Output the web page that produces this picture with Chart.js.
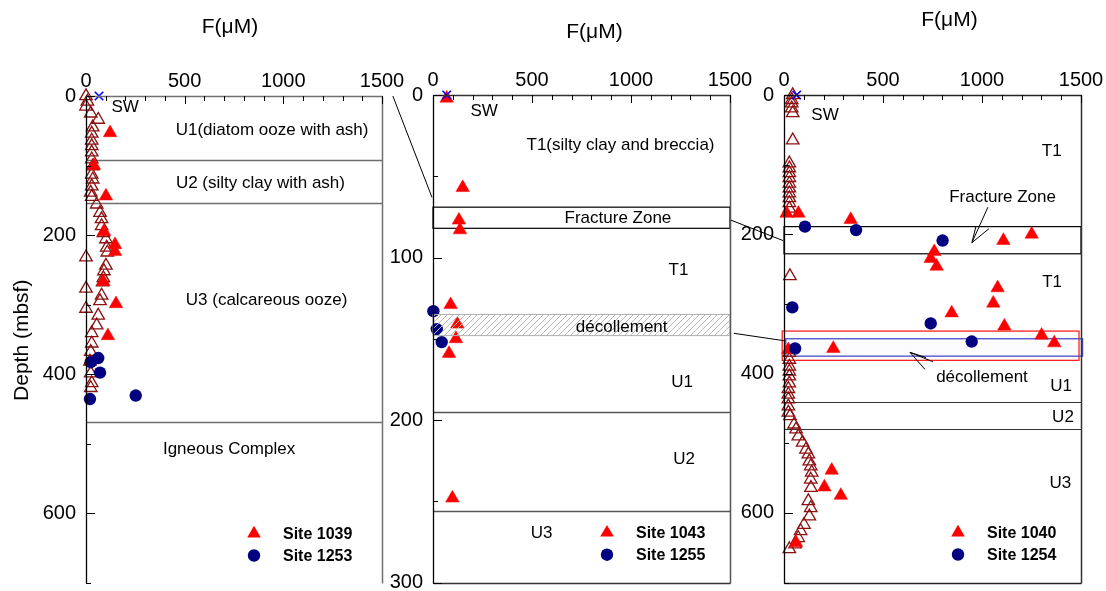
<!DOCTYPE html>
<html><head><meta charset="utf-8">
<script src="https://cdn.jsdelivr.net/npm/chart.js@4.4.0/dist/chart.umd.min.js"></script>
<style>
html,body{margin:0;padding:0;background:#fff;}
#wrap{position:relative;width:1106px;height:591px;overflow:hidden;}
#wrap canvas{position:absolute;left:0;top:0;}
</style></head><body>
<div id="wrap">
<canvas id="c1" width="1106" height="591"></canvas>
<canvas id="c2" width="1106" height="591"></canvas>
<canvas id="c3" width="1106" height="591"></canvas>
</div>
<script>
// ---------------- DATA ----------------
// x = F (µM), y = depth (mbsf)
const xTickLabels = [0, 500, 1000, 1500];

// Panel 1
const p1SwF = [66];           const p1SwDepth = [0];
const site1253F = [62, 24, 71, 20, 252];
const site1253Depth = [377, 383, 398, 436, 431];
const site1039F = [122, 40, 101, 91, 147, 147, 88, 152, 111];
const site1039Depth = [53, 100, 144, 195, 214, 224, 267, 299, 345];
const p1OpenF = [0, 7, 0, 24, 62, 34, 29, 29, 29, 29, 29, 34, 29, 34, 29, 24, 29, 54, 71, 79, 79, 88, 101, 105, 108, 0, 101, 91, 88, 84, 0, 79, 71, 0, 62, 54, 29, 29, 24, 20, 24, 29, 24];
const p1OpenDepth = [0, 8, 15, 25, 34, 45, 54, 64, 72, 81, 91, 101, 113, 120, 130, 139, 145, 156, 168, 177, 187, 197, 206, 218, 225, 232, 244, 252, 262, 268, 277, 287, 295, 306, 316, 330, 341, 356, 368, 382, 399, 413, 420];
const p1YTickLabels = [0, 200, 400, 600];

// Panel 2
const p2SwF = [69];           const p2SwDepth = [0];
const site1255F = [2, 19, 44];
const site1255Depth = [133, 144, 152];
const site1043F = [69, 150, 131, 136, 89, 123, 116, 81, 98];
const site1043Depth = [2, 57, 77, 83, 129, 141, 150, 159, 248];
const p2YTickLabels = [0, 100, 200, 300];

// Panel 3
const p3SwF = [64];           const p3SwDepth = [0];
const site1254F = [106, 364, 801, 42, 741, 948, 56];
const site1254Depth = [189, 194, 209, 305, 328, 354, 364];
const site1040F = [13, 73, 337, 1108, 1251, 759, 741, 771, 1079, 1057, 847, 1113, 1301, 1365, 249, 22, 241, 204, 287, 61];
const site1040Depth = [170, 170, 179, 209, 200, 225, 235, 246, 277, 299, 313, 332, 345, 356, 364, 366, 539, 563, 575, 643];
const p3OpenF = [44, 39, 39, 39, 44, 44, 27, 27, 27, 27, 27, 27, 27, 27, 27, 27, 30, 27, 27, 27, 27, 27, 27, 22, 22, 22, 22, 22, 30, 51, 61, 72, 94, 111, 123, 128, 135, 140, 135, 136, 123, 135, 128, 101, 84, 72, 56, 27];
const p3OpenDepth = [0, 7, 12, 19, 26, 65, 98, 105, 112, 119, 127, 134, 141, 148, 155, 163, 260, 370, 380, 390, 397, 404, 414, 422, 430, 437, 447, 456, 461, 473, 480, 490, 499, 509, 516, 526, 533, 542, 552, 564, 583, 593, 605, 617, 626, 636, 645, 652];
const p3YTickLabels = [0, 200, 400, 600];

// ---------------- STYLE / LAYOUT ----------------
const FONT = "'Liberation Sans', Arial, Helvetica, sans-serif";
const toPts = (xs, ys) => xs.map((v, i) => ({x: v, y: ys[i]}));

function ds(label, xs, ys, kind) {
  const base = {label, data: toPts(xs, ys), showLine: false, clip: false};
  if (kind === 'sw') return Object.assign(base, {pointStyle: 'crossRot', pointRadius: 6, borderColor: '#0000ff', backgroundColor: '#0000ff', pointBorderWidth: 1.6});
  if (kind === 'circle') return Object.assign(base, {pointStyle: 'circle', pointRadius: 6.2, borderColor: '#000080', backgroundColor: '#000080', pointBorderWidth: 0});
  if (kind === 'tri') return Object.assign(base, {pointStyle: 'triangle', pointRadius: 7.8, borderColor: '#ff0000', backgroundColor: '#ff0000', pointBorderWidth: 0.5});
  return Object.assign(base, {pointStyle: 'triangle', pointRadius: 7.2, borderColor: '#8b1010', backgroundColor: 'rgba(0,0,0,0)', pointBorderWidth: 1.3});
}

function hatchPattern(ctx) {
  const c = document.createElement('canvas'); c.width = 6; c.height = 6;
  const g = c.getContext('2d');
  g.strokeStyle = '#b8b8b8'; g.lineWidth = 1;
  g.beginPath(); g.moveTo(0, 6); g.lineTo(6, 0); g.moveTo(-3, 3); g.lineTo(3, -3); g.moveTo(3, 9); g.lineTo(9, 3); g.stroke();
  return ctx.createPattern(c, 'repeat');
}

function panelPlugin(p) {
  return {
    id: 'panel_' + p.id,
    beforeDatasetsDraw(chart) {
      const ctx = chart.ctx, xs = chart.scales.x, ys = chart.scales.y, a = chart.chartArea;
      ctx.save();
      (p.hlines || []).forEach(h => {
        ctx.strokeStyle = p.lineColor; ctx.lineWidth = p.lineWidth;
        const y = Math.round(ys.getPixelForValue(h)) + 0.5;
        ctx.beginPath(); ctx.moveTo(a.left, y); ctx.lineTo(a.right, y); ctx.stroke();
      });
      (p.boxes || []).forEach(b => {
        const x1 = b.f1 == null ? a.left : xs.getPixelForValue(b.f1);
        const x2 = b.f2 == null ? a.right : xs.getPixelForValue(b.f2);
        const y1 = ys.getPixelForValue(b.d1), y2 = ys.getPixelForValue(b.d2);
        if (b.fill) { ctx.fillStyle = b.fill; ctx.fillRect(x1, y1, x2 - x1, y2 - y1); }
        ctx.strokeStyle = b.color; ctx.lineWidth = b.width;
        ctx.strokeRect(x1, y1, x2 - x1, y2 - y1);
      });
      ctx.restore();
    },
    afterDatasetsDraw(chart) {
      const ctx = chart.ctx, xs = chart.scales.x, ys = chart.scales.y, a = chart.chartArea;
      ctx.save();
      // hatched décollement box
      (p.hatch || []).forEach(b => {
        const y1 = ys.getPixelForValue(b.d1), y2 = ys.getPixelForValue(b.d2);
        ctx.fillStyle = hatchPattern(ctx);
        ctx.fillRect(a.left, y1, a.right - a.left, y2 - y1);
        ctx.strokeStyle = '#b0b0b0'; ctx.lineWidth = 1;
        ctx.strokeRect(a.left, y1, a.right - a.left, y2 - y1);
      });
      // frame
      const L = a.left + 0.5, R = Math.round(a.right) + 0.5, T = a.top + 0.5, B = Math.round(a.bottom) + 0.5;
      const side = (c, w, x1, y1, x2, y2) => { ctx.strokeStyle = c; ctx.lineWidth = w; ctx.beginPath(); ctx.moveTo(x1, y1); ctx.lineTo(x2, y2); ctx.stroke(); };
      side(p.frame.left, 1.3, L, T, L, B);
      side(p.frame.top, 1.5, L, T, R, T);
      side(p.frame.right, 1.5, R, T, R, B);
      if (p.frame.bottom) side(p.frame.bottom, 1.5, L, B, R, B);
      // inward ticks
      ctx.strokeStyle = '#000'; ctx.lineWidth = 1;
      xs.ticks.forEach(t => {
        const x = Math.round(xs.getPixelForValue(t.value)) + 0.5;
        const len = (t.value % 500 === 0) ? 8 : 5;
        ctx.beginPath(); ctx.moveTo(x, a.top); ctx.lineTo(x, a.top + len); ctx.stroke();
      });
      ys.ticks.forEach(t => {
        const y = Math.round(ys.getPixelForValue(t.value)) + 0.5;
        const len = (t.value % p.yMajor === 0) ? 9 : 5;
        ctx.beginPath(); ctx.moveTo(a.left, y); ctx.lineTo(a.left + len, y); ctx.stroke();
      });
      // texts
      ctx.fillStyle = '#000'; ctx.textAlign = 'center'; ctx.textBaseline = 'middle';
      (p.texts || []).forEach(t => {
        ctx.font = (t.size || 17) + 'px ' + FONT;
        ctx.fillText(t.s, xs.getPixelForValue(t.f), ys.getPixelForValue(t.d));
      });
      // arrows
      ctx.strokeStyle = '#000'; ctx.lineWidth = 1;
      (p.arrows || []).forEach(ar => {
        const tx = xs.getPixelForValue(ar.tip[0]), ty = ys.getPixelForValue(ar.tip[1]);
        ar.ends.forEach(e => {
          ctx.beginPath(); ctx.moveTo(tx, ty); ctx.lineTo(xs.getPixelForValue(e[0]), ys.getPixelForValue(e[1])); ctx.stroke();
        });
      });
      // title F(µM)
      ctx.font = '21px ' + FONT; ctx.fillStyle = '#000';
      ctx.fillText('F(\u03bcM)', (a.left + a.right) / 2 + p.titleDx, a.top - p.titleDy);
      if (p.yTitle) {
        ctx.save(); ctx.translate(22, (a.top + a.bottom) / 2 + 1); ctx.rotate(-Math.PI / 2);
        ctx.font = '21px ' + FONT; ctx.fillText(p.yTitle, 0, 0); ctx.restore();
      }
      // legend
      p.legend.forEach((lg, i) => {
        const dsx = chart.data.datasets[lg.index];
        const cx = a.right - p.legendDx, cy = a.bottom - p.legendDy + i * 22;
        ctx.fillStyle = dsx.backgroundColor;
        ctx.beginPath();
        if (dsx.pointStyle === 'circle') ctx.arc(cx, cy, dsx.pointRadius, 0, Math.PI * 2);
        else { const r = dsx.pointRadius; ctx.moveTo(cx, cy - r); ctx.lineTo(cx + r * 0.866, cy + r / 2); ctx.lineTo(cx - r * 0.866, cy + r / 2); ctx.closePath(); }
        ctx.fill();
        ctx.fillStyle = '#000'; ctx.textAlign = 'left'; ctx.font = 'bold 16px ' + FONT;
        ctx.fillText(dsx.label, cx + 29, cy + 1);
        ctx.textAlign = 'center';
      });
      ctx.restore();
    }
  };
}

function makeChart(id, p, datasets, extraPlugins) {
  const YW = 60, XH = 30;
  const chart = new Chart(document.getElementById(id), {
    type: 'scatter',
    data: {datasets},
    options: {
      responsive: false, animation: false, devicePixelRatio: 1,
      layout: {padding: {left: p.area.left - YW, top: p.area.top - XH, right: 1106 - p.area.right, bottom: 591 - p.area.bottom}},
      plugins: {legend: {display: false}, tooltip: {enabled: false}},
      scales: {
        x: {type: 'linear', position: 'top', min: 0, max: 1500,
          ticks: {stepSize: 100, autoSkip: false, maxRotation: 0, padding: 3, color: '#000', font: {family: FONT, size: 20},
            callback: v => xTickLabels.includes(v) ? String(v) : ''},
          grid: {display: false, drawTicks: false}, border: {display: false},
          afterFit: s => { s.height = XH; s.paddingLeft = 0; s.paddingRight = 0; s.paddingTop = 0; s.paddingBottom = 0; }},
        y: {type: 'linear', reverse: true, min: 0, max: p.yMax,
          ticks: {stepSize: p.yMinor, autoSkip: false, padding: 10, color: '#000', font: {family: FONT, size: 20},
            callback: v => p.yLabels.includes(v) ? String(v) : ''},
          grid: {display: false, drawTicks: false}, border: {display: false},
          afterFit: s => { s.width = YW; s.paddingTop = 0; s.paddingBottom = 0; s.paddingLeft = 0; s.paddingRight = 0; }}
      }
    },
    plugins: [panelPlugin(p)].concat(extraPlugins || [])
  });
  // adjust the layout padding until the plot area sits where the reference has it
  for (let k = 0; k < 3; k++) {
    const a = chart.chartArea, pad = chart.options.layout.padding;
    const dl = p.area.left - a.left, dt = p.area.top - a.top, dr = a.right - p.area.right, db = a.bottom - p.area.bottom;
    if (Math.abs(dl) + Math.abs(dt) + Math.abs(dr) + Math.abs(db) < 0.5) break;
    pad.left += dl; pad.top += dt; pad.right += dr; pad.bottom += db;
    chart.update('none');
  }
  return chart;
}

// ---------------- PANELS ----------------
const P1 = {id: 1, area: {left: 86, top: 96, right: 382, bottom: 586}, yMax: 700, yMinor: 100, yMajor: 200, yLabels: p1YTickLabels,
  lineColor: '#6e6e6e', lineWidth: 1.6, hlines: [92, 154, 469],
  frame: {left: '#000', top: '#707070', right: '#707070'},
  texts: [{s: 'SW', f: 198, d: 16, size: 17}, {s: 'U1(diatom ooze with ash)', f: 943, d: 50}, {s: 'U2 (silty clay with ash)', f: 884, d: 125},
          {s: 'U3 (calcareous ooze)', f: 915, d: 294}, {s: 'Igneous Complex', f: 725, d: 508}],
  titleDx: -4, titleDy: 69, yTitle: 'Depth (mbsf)',
  legend: [{index: 2}, {index: 1}], legendDx: 128, legendDy: 49};

const P2 = {id: 2, area: {left: 433, top: 95, right: 730, bottom: 584}, yMax: 300, yMinor: 50, yMajor: 100, yLabels: p2YTickLabels,
  lineColor: '#555', lineWidth: 1.4, hlines: [195, 256],
  frame: {left: '#000', top: '#333', right: '#555', bottom: '#333'},
  boxes: [{d1: 69, d2: 82, color: '#000', width: 1.2}],
  hatch: [{d1: 135, d2: 148}],
  texts: [{s: 'SW', f: 258, d: 10}, {s: 'T1(silty clay and breccia)', f: 947, d: 31}, {s: 'Fracture Zone', f: 934, d: 76},
          {s: 'T1', f: 1240, d: 108}, {s: 'décollement', f: 953, d: 143}, {s: 'U1', f: 1258, d: 177}, {s: 'U2', f: 1268, d: 224}, {s: 'U3', f: 549, d: 269.5}],
  titleDx: 13, titleDy: 63,
  legend: [{index: 2}, {index: 1}], legendDx: 123, legendDy: 50};

const P3 = {id: 3, area: {left: 784, top: 95, right: 1081, bottom: 583}, yMax: 700, yMinor: 100, yMajor: 200, yLabels: p3YTickLabels,
  lineColor: '#333', lineWidth: 1.1, hlines: [441, 480],
  frame: {left: '#000', top: '#222', right: '#333', bottom: '#222'},
  boxes: [{d1: 189, d2: 228, color: '#000', width: 1.2},
          {f1: -9, f2: 1490, d1: 339, d2: 381, color: '#ff2020', width: 1.3},
          {f1: 9, f2: 1508, d1: 350, d2: 375, color: '#4a4ac8', width: 1.3, fill: 'rgba(80,80,220,0.02)'}],
  texts: [{s: 'SW', f: 207, d: 29}, {s: 'T1', f: 1352, d: 81}, {s: 'Fracture Zone', f: 1104, d: 147}, {s: 'T1', f: 1354, d: 269},
          {s: 'décollement', f: 1000, d: 406}, {s: 'U1', f: 1399, d: 418}, {s: 'U2', f: 1409, d: 463.5}, {s: 'U3', f: 1396, d: 557}],
  arrows: [{tip: [949, 212], ends: [[1030, 161], [970, 188], [1035, 192]]},
           {tip: [636, 369.5], ends: [[752, 383], [712, 394], [717, 377]]}],
  titleDx: 17, titleDy: 75,
  legend: [{index: 2}, {index: 1}], legendDx: 123, legendDy: 50};

const chart1 = makeChart('c1', P1, [
  ds('SW', p1SwF, p1SwDepth, 'sw'),
  ds('Site 1253', site1253F, site1253Depth, 'circle'),
  ds('Site 1039', site1039F, site1039Depth, 'tri'),
  ds('', p1OpenF, p1OpenDepth, 'open')
]);
const chart2 = makeChart('c2', P2, [
  ds('SW', p2SwF, p2SwDepth, 'sw'),
  ds('Site 1255', site1255F, site1255Depth, 'circle'),
  ds('Site 1043', site1043F, site1043Depth, 'tri')
]);
const connectors = {
  id: 'connectors',
  afterDraw(chart) {
    const ctx = chart.ctx;
    const s1 = chart1.scales, s2 = chart2.scales, s3 = chart.scales;
    const seg = (sa, fa, da, sb, fb, db) => {
      ctx.beginPath();
      ctx.moveTo(sa.x.getPixelForValue(fa), sa.y.getPixelForValue(da));
      ctx.lineTo(sb.x.getPixelForValue(fb), sb.y.getPixelForValue(db));
      ctx.stroke();
    };
    ctx.save(); ctx.strokeStyle = '#000'; ctx.lineWidth = 1;
    seg(s1, 1555, 0, s2, -5, 63);
    seg(s2, 1505, 77, s3, -5, 209);
    seg(s2, 1520, 146.6, s3, 5, 353);
    ctx.restore();
  }
};
const chart3 = makeChart('c3', P3, [
  ds('SW', p3SwF, p3SwDepth, 'sw'),
  ds('Site 1254', site1254F, site1254Depth, 'circle'),
  ds('Site 1040', site1040F, site1040Depth, 'tri'),
  ds('', p3OpenF, p3OpenDepth, 'open')
], [connectors]);
</script>
</body></html>
